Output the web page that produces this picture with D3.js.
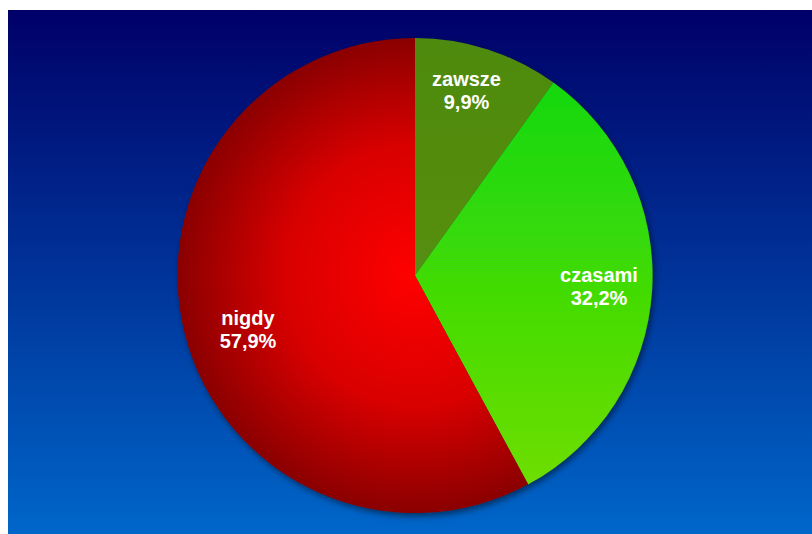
<!DOCTYPE html>
<html><head><meta charset="utf-8">
<script src="https://cdn.jsdelivr.net/npm/d3@7"></script>
<style>html,body{margin:0;padding:0;background:#fff;}svg{display:block;}</style>
</head><body>
<svg id="c" width="812" height="534"></svg>
<script>
const categories = ["zawsze", "czasami", "nigdy"];
const values = [9.9, 32.2, 57.9];
const labels = ["9,9%", "32,2%", "57,9%"];

const svg = d3.select("#c");
const defs = svg.append("defs");
const bg = defs.append("linearGradient").attr("id","bg").attr("x1",0).attr("y1",0).attr("x2",0).attr("y2",1);
bg.append("stop").attr("offset","0%").attr("stop-color","#000068");
bg.append("stop").attr("offset","100%").attr("stop-color","#0066c9");

const gz = defs.append("linearGradient").attr("id","g0").attr("x1",0).attr("y1",0).attr("x2",0).attr("y2",1);
gz.append("stop").attr("offset","0%").attr("stop-color","#4e8a0c");
gz.append("stop").attr("offset","100%").attr("stop-color","#568e12");
const gc = defs.append("linearGradient").attr("id","g1").attr("x1",0).attr("y1",0).attr("x2",0).attr("y2",1);
gc.append("stop").attr("offset","0%").attr("stop-color","#14d80a");
gc.append("stop").attr("offset","100%").attr("stop-color","#6ede02");
const gr = defs.append("radialGradient").attr("id","g2").attr("gradientUnits","userSpaceOnUse")
  .attr("cx",0).attr("cy",0).attr("r",238);
gr.append("stop").attr("offset","0%").attr("stop-color","#ff0000");
gr.append("stop").attr("offset","55%").attr("stop-color","#d80000");
gr.append("stop").attr("offset","100%").attr("stop-color","#8a0000");

const f = defs.append("filter").attr("id","sh").attr("x","-10%").attr("y","-10%").attr("width","120%").attr("height","120%");
f.append("feDropShadow").attr("dx",2).attr("dy",3).attr("stdDeviation",3).attr("flood-color","#000").attr("flood-opacity",0.5);

svg.append("rect").attr("x",8).attr("y",10).attr("width",804).attr("height",524).attr("fill","url(#bg)");

const cx = 415, cy = 275.5, r = 237.5;
const pie = d3.pie().sort(null).value(d => d)(values);
const arc = d3.arc().innerRadius(0).outerRadius(r);
const g = svg.append("g").attr("transform",`translate(${cx},${cy})`);
g.append("g").attr("filter","url(#sh)").selectAll("path").data(pie).join("path")
  .attr("d", arc)
  .attr("fill", (d,i) => `url(#g${i})`);

const labelPos = [[51.5,-190],[184,6],[-167,49.5]];
const tg = g.selectAll("text.lbl").data(pie).join("text")
  .attr("class","lbl")
  .attr("text-anchor","middle")
  .attr("font-family","Liberation Sans, Arial, sans-serif")
  .attr("font-weight","bold")
  .attr("font-size",20)
  .attr("fill","#fff")
  .attr("transform",(d,i)=>`translate(${labelPos[i][0]},${labelPos[i][1]})`);
tg.append("tspan").attr("x",0).attr("dy",0).text((d,i)=>categories[i]);
tg.append("tspan").attr("x",0).attr("dy",23).text((d,i)=>labels[i]);
</script>
</body></html>
